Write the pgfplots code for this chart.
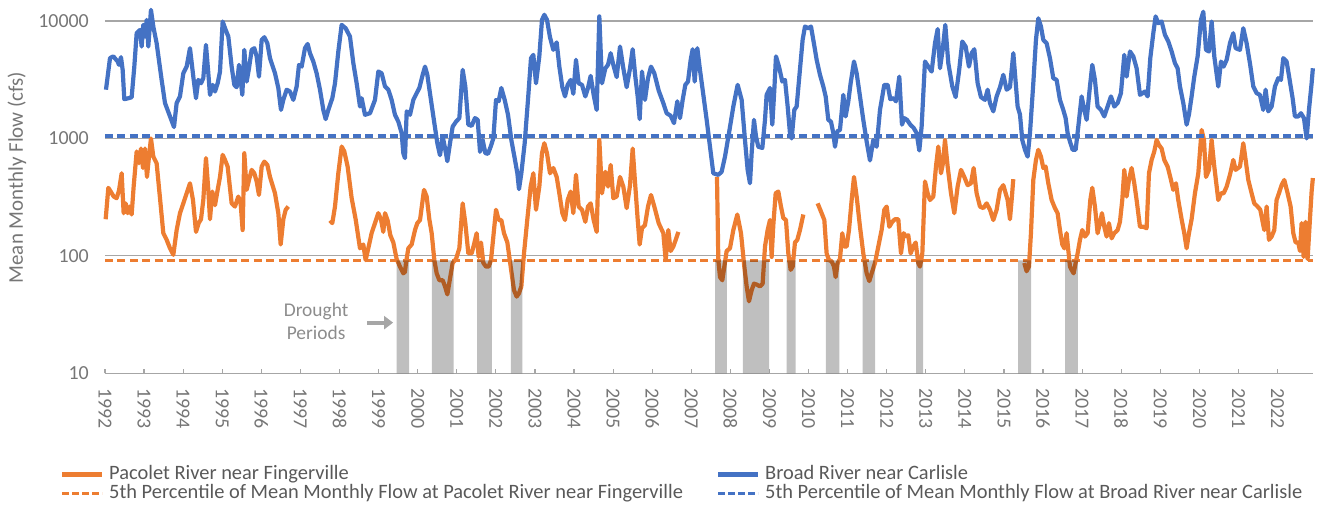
\documentclass[border=0pt]{standalone}
\usepackage{fontspec}
\setmainfont{Carlito}
\usepackage{pgfplots}
\pgfplotsset{compat=1.18}
\usetikzlibrary{arrows.meta}
\definecolor{cOrange}{RGB}{237,125,49}
\definecolor{cBlue}{RGB}{68,114,196}
\definecolor{cGrid}{RGB}{166,166,166}
\definecolor{cBar}{RGB}{191,191,191}
\definecolor{cTick}{RGB}{118,118,118}
\definecolor{cLeg}{RGB}{89,89,89}
\definecolor{cNote}{RGB}{140,140,140}
\begin{document}
\begin{tikzpicture}
\begin{axis}[
  at={(0,0)}, anchor=south west,
  scale only axis, width=1207.9bp, height=373.3bp,
  xmin=1992, xmax=2022.9,
  ymode=log, ymin=10, ymax=15100,
  clip=false,
  axis x line*=bottom, axis y line*=left,
  y axis line style={draw=none},
  x axis line style={cGrid, line width=1.3bp},
  ymajorgrids, grid style={cGrid, line width=1.2bp},
  ytick={10,100,1000,10000}, yticklabels={10,100,1000,10000},
  ytick style={draw=none}, yminorticks=false,
  xtick={1992,...,2022},
  xticklabels={1992,1993,1994,1995,1996,1997,1998,1999,2000,2001,2002,2003,2004,2005,2006,2007,2008,2009,2010,2011,2012,2013,2014,2015,2016,2017,2018,2019,2020,2021,2022},
  xtick style={cGrid, line width=1.2bp}, tick align=inside, major tick length=4bp,
  xticklabel style={font=\fontsize{20}{24}\selectfont, text=cTick, rotate=-90, anchor=west, inner sep=0pt},
  yticklabel style={font=\fontsize{20}{24}\selectfont, text=cTick, anchor=east, inner sep=0pt},
  xticklabel shift=15bp, yticklabel shift=16bp,
  unbounded coords=jump,
  legend columns=2,
  legend cell align=left,
  legend style={at={(rel axis cs:-0.03725,-0.2456)}, anchor=north west, draw=none, fill=none,
    inner sep=0pt, outer sep=0pt, font=\fontsize{20.5}{24}\selectfont, text=cLeg,
    nodes={inner sep=0pt, text height=15bp, text depth=4bp},
    row sep=0bp,
    /tikz/every odd column/.append style={column sep=5bp},
    /tikz/every even column/.append style={column sep=33bp}},
]
% Pacolet River near Fingerville
\addplot[cOrange, line width=4.2bp, line join=round,
  legend image code/.code={\draw[cOrange, line width=4.2bp] (0bp,0bp) -- (40bp,0bp);}]
coordinates {
(1992.017,205)(1992.085,380)(1992.153,350)(1992.222,320)(1992.298,310)(1992.358,360)(1992.426,505)(1992.477,231)(1992.529,280)(1992.580,231)(1992.631,263)(1992.682,225)(1992.733,389)(1992.810,775)(1992.870,615)(1992.921,820)(1992.972,560)(1993.023,820)(1993.074,470)(1993.125,700)(1993.176,1000)(1993.236,700)(1993.321,615)(1993.407,310)(1993.492,156)(1993.577,137)(1993.663,116)(1993.748,102)(1993.833,166)(1993.918,231)(1994.004,280)(1994.089,341)(1994.174,415)(1994.251,299)(1994.328,160)(1994.396,190)(1994.456,205)(1994.515,299)(1994.583,680)(1994.643,365)(1994.686,205)(1994.745,353)(1994.814,270)(1994.882,365)(1994.942,470)(1995.010,725)(1995.070,656)(1995.138,576)(1995.240,280)(1995.325,263)(1995.411,320)(1995.470,280)(1995.521,166)(1995.564,748)(1995.624,365)(1995.684,443)(1995.752,540)(1995.820,505)(1995.880,430)(1995.939,330)(1996.008,576)(1996.076,635)(1996.153,595)(1996.221,470)(1996.349,341)(1996.434,231)(1996.494,125)(1996.562,205)(1996.622,247)(1996.690,263)
(1997.2,nan)
(1997.756,200)(1997.815,190)(1997.884,263)(1997.969,505)(1998.054,853)(1998.122,775)(1998.207,576)(1998.310,310)(1998.412,205)(1998.523,116)(1998.608,125)(1998.668,92)(1998.736,116)(1998.821,156)(1998.907,190)(1998.992,231)(1999.060,205)(1999.120,160)(1999.163,231)(1999.231,200)(1999.299,150)(1999.376,130)(1999.461,94)(1999.546,81)(1999.632,71)(1999.674,73)
(1999.700,87)(1999.760,116)(1999.845,125)(1999.931,166)(1999.990,190)(2000.059,202)(2000.161,365)(2000.229,320)(2000.297,205)(2000.357,156)(2000.425,92)(2000.485,71)(2000.553,62)(2000.638,62)(2000.698,55)(2000.758,47)(2000.826,64)(2000.894,87)(2000.980,94)(2001.065,116)(2001.150,280)(2001.218,190)(2001.295,105)(2001.380,105)(2001.440,125)(2001.508,156)(2001.559,98)(2001.619,130)(2001.679,87)(2001.747,81)(2001.815,81)(2001.875,92)(2001.935,146)(2002.003,247)(2002.071,202)(2002.139,202)(2002.207,156)(2002.293,130)(2002.378,81)(2002.463,51)(2002.531,45)(2002.591,48)(2002.651,55)(2002.719,105)(2002.804,205)(2002.889,389)(2002.958,505)(2003.026,247)(2003.111,389)(2003.179,748)(2003.239,910)(2003.307,748)(2003.384,505)(2003.469,560)(2003.555,470)(2003.623,341)(2003.700,231)(2003.768,202)(2003.836,299)(2003.913,353)(2003.981,231)(2004.049,490)(2004.117,263)(2004.203,247)(2004.288,195)(2004.356,263)(2004.424,280)(2004.501,202)(2004.578,160)(2004.646,971)(2004.714,341)(2004.800,520)(2004.868,389)(2004.936,595)(2005.004,310)(2005.090,320)(2005.175,470)(2005.260,389)(2005.345,255)(2005.431,400)(2005.499,820)(2005.567,389)(2005.627,205)(2005.678,125)(2005.738,172)(2005.814,183)(2005.891,263)(2005.968,330)(2006.053,263)(2006.164,190)(2006.283,156)(2006.343,92)(2006.411,166)(2006.471,110)(2006.539,120)(2006.607,139)(2006.667,160)
(2007.1,nan)
(2007.656,470)(2007.690,92)(2007.733,66)(2007.792,62)(2007.844,81)(2007.903,110)(2007.988,116)(2008.074,166)(2008.176,225)(2008.270,156)(2008.355,81)(2008.415,55)(2008.474,41)(2008.543,51)(2008.602,58)(2008.671,57)(2008.756,55)(2008.824,58)(2008.884,120)(2008.952,166)(2009.012,202)(2009.054,98)(2009.097,183)(2009.157,341)(2009.225,353)(2009.293,263)(2009.353,210)(2009.421,202)(2009.481,105)(2009.540,76)(2009.592,81)(2009.651,130)(2009.711,137)(2009.779,166)(2009.865,225)
(2010.0,nan)
(2010.231,280)(2010.333,231)(2010.402,202)(2010.461,105)(2010.521,92)(2010.589,90)(2010.649,81)(2010.691,66)(2010.743,87)(2010.802,94)(2010.862,156)(2010.913,120)(2010.973,120)(2011.033,166)(2011.101,299)(2011.161,470)(2011.229,320)(2011.314,177)(2011.399,105)(2011.485,71)(2011.553,61)(2011.613,71)(2011.698,87)(2011.783,120)(2011.868,166)(2011.937,247)(2011.996,263)(2012.065,177)(2012.141,195)(2012.209,205)(2012.295,205)(2012.363,105)(2012.431,156)(2012.491,146)(2012.550,150)(2012.610,105)(2012.678,120)(2012.738,130)(2012.806,87)(2012.849,81)(2012.909,105)(2012.977,430)(2013.045,341)(2013.105,299)(2013.190,320)(2013.258,576)(2013.318,853)(2013.386,505)(2013.437,615)(2013.489,971)(2013.557,576)(2013.642,341)(2013.727,231)(2013.812,389)(2013.898,540)(2013.983,470)(2014.068,400)(2014.153,415)(2014.222,560)(2014.298,341)(2014.384,263)(2014.469,255)(2014.554,280)(2014.640,247)(2014.725,202)(2014.810,247)(2014.896,365)(2014.981,400)(2015.091,299)(2015.151,205)(2015.194,299)(2015.236,450)
(2015.4,nan)
(2015.518,87)(2015.577,74)(2015.637,81)(2015.688,156)(2015.748,443)(2015.816,656)(2015.876,800)(2015.944,700)(2016.004,560)(2016.063,576)(2016.132,415)(2016.217,299)(2016.302,255)(2016.370,231)(2016.430,166)(2016.490,125)(2016.541,116)(2016.600,156)(2016.643,112)(2016.686,81)(2016.728,76)(2016.780,71)(2016.831,87)(2016.882,105)(2016.942,137)(2017.001,166)(2017.070,146)(2017.138,156)(2017.206,299)(2017.257,380)(2017.325,263)(2017.393,156)(2017.453,190)(2017.504,231)(2017.564,177)(2017.624,146)(2017.683,190)(2017.752,141)(2017.820,156)(2017.905,166)(2017.965,195)(2018.024,299)(2018.076,540)(2018.135,320)(2018.195,443)(2018.263,560)(2018.331,415)(2018.391,299)(2018.477,177)(2018.562,177)(2018.647,172)(2018.707,505)(2018.775,656)(2018.843,775)(2018.903,971)(2018.962,880)(2019.031,820)(2019.099,656)(2019.184,576)(2019.270,443)(2019.329,365)(2019.397,415)(2019.457,299)(2019.542,205)(2019.610,156)(2019.670,116)(2019.730,156)(2019.798,205)(2019.883,341)(2019.969,505)(2020.054,1180)(2020.114,971)(2020.165,470)(2020.242,540)(2020.310,971)(2020.378,576)(2020.480,299)(2020.549,341)(2020.617,341)(2020.694,389)(2020.779,490)(2020.864,656)(2020.924,540)(2021.035,576)(2021.120,910)(2021.180,656)(2021.248,443)(2021.333,341)(2021.401,280)(2021.486,263)(2021.555,247)(2021.606,202)(2021.657,166)(2021.717,263)(2021.776,137)(2021.845,146)(2021.913,166)(2021.972,299)(2022.032,341)(2022.100,400)(2022.168,443)(2022.254,341)(2022.331,263)(2022.399,156)(2022.459,130)(2022.527,130)(2022.570,110)(2022.612,190)(2022.663,98)(2022.714,195)(2022.765,94)(2022.825,205)(2022.868,353)(2022.9,460)
};
\addlegendentry{Pacolet River near Fingerville}
% Broad River near Carlisle
\addplot[cBlue, line width=4.2bp, line join=round,
  legend image code/.code={\draw[cBlue, line width=4.2bp] (0bp,0bp) -- (40bp,0bp);}]
coordinates {
(1992.025,2600)(1992.128,4830)(1992.213,5000)(1992.324,4520)(1992.358,4230)(1992.409,4920)(1992.452,3830)(1992.494,2160)(1992.597,2200)(1992.682,2240)(1992.750,4090)(1992.810,7870)(1992.895,8400)(1992.938,6060)(1992.980,9270)(1993.023,7370)(1993.066,10230)(1993.108,6060)(1993.176,12450)(1993.236,8970)(1993.321,6470)(1993.449,3150)(1993.535,2000)(1993.663,1540)(1993.765,1250)(1993.833,2000)(1993.918,2280)(1994.004,3590)(1994.089,4090)(1994.174,5870)(1994.259,3360)(1994.328,2200)(1994.387,3150)(1994.456,2950)(1994.515,3260)(1994.583,6260)(1994.643,3590)(1994.686,2350)(1994.754,2860)(1994.814,2510)(1994.882,2950)(1994.942,3710)(1995.010,9900)(1995.087,8400)(1995.155,7370)(1995.240,4090)(1995.308,2860)(1995.368,2730)(1995.428,4230)(1995.470,3150)(1995.513,2350)(1995.564,5680)(1995.624,3050)(1995.684,3960)(1995.752,5680)(1995.820,5870)(1995.880,5000)(1995.939,3360)(1996.008,6910)(1996.076,7280)(1996.153,6470)(1996.221,4830)(1996.349,3590)(1996.434,2690)(1996.502,1750)(1996.562,2130)(1996.647,2600)(1996.732,2510)(1996.818,2130)(1996.903,2770)(1996.963,4230)(1997.031,4090)(1997.116,5870)(1997.184,6380)(1997.244,5320)(1997.329,4520)(1997.414,3590)(1997.500,2600)(1997.585,1750)(1997.645,1460)(1997.713,1750)(1997.815,2200)(1997.884,2950)(1997.969,5500)(1998.054,9270)(1998.156,8680)(1998.267,7370)(1998.353,4370)(1998.438,2950)(1998.523,1870)(1998.566,2200)(1998.651,1590)(1998.779,1640)(1998.907,2130)(1998.992,3710)(1999.077,3590)(1999.163,2770)(1999.248,2600)(1999.333,2130)(1999.418,1590)(1999.504,1390)(1999.589,1110)(1999.632,748)(1999.674,680)
(1999.718,1700)(1999.803,1590)(1999.888,2130)(1999.973,2430)(2000.042,2690)(2000.127,3480)(2000.187,4090)(2000.246,3480)(2000.332,2200)(2000.417,1410)(2000.502,910)(2000.570,720)(2000.638,1040)(2000.698,830)(2000.758,640)(2000.826,910)(2000.894,1260)(2000.980,1390)(2001.065,1490)(2001.150,3840)(2001.218,2770)(2001.295,1310)(2001.380,1280)(2001.465,1490)(2001.534,1440)(2001.594,770)(2001.662,970)(2001.730,750)(2001.798,740)(2001.866,850)(2001.935,1000)(2002.003,2130)(2002.071,2070)(2002.139,2690)(2002.225,2130)(2002.310,1590)(2002.395,970)(2002.480,680)(2002.549,505)(2002.591,370)(2002.651,505)(2002.736,910)(2002.821,2130)(2002.898,4830)(2002.958,5150)(2003.026,2950)(2003.111,5000)(2003.179,10230)(2003.239,11300)(2003.307,10230)(2003.384,7280)(2003.469,5680)(2003.555,6580)(2003.623,4090)(2003.700,2730)(2003.768,2280)(2003.836,2860)(2003.913,3150)(2003.981,2400)(2004.049,4670)(2004.117,2950)(2004.203,2860)(2004.288,2280)(2004.356,2690)(2004.424,3410)(2004.501,2350)(2004.578,1750)(2004.646,10950)(2004.714,2950)(2004.800,3960)(2004.868,4230)(2004.936,5320)(2005.004,4230)(2005.090,3330)(2005.175,6060)(2005.260,3960)(2005.345,2730)(2005.431,3960)(2005.499,5750)(2005.567,3360)(2005.627,2280)(2005.678,1460)(2005.738,3710)(2005.814,2130)(2005.891,3260)(2005.968,4090)(2006.053,3590)(2006.164,2560)(2006.283,2000)(2006.369,1640)(2006.471,1560)(2006.556,1350)(2006.641,2070)(2006.710,1490)(2006.778,2130)(2006.846,2860)(2006.914,3050)(2006.983,4670)(2007.034,5750)(2007.085,3050)(2007.153,5870)(2007.221,3830)(2007.307,2350)(2007.392,1440)(2007.477,850)
(2007.562,505)(2007.690,490)(2007.775,520)(2007.861,700)(2007.963,1110)(2008.074,1870)(2008.185,2860)(2008.287,2130)(2008.372,970)(2008.440,540)(2008.500,415)(2008.543,750)(2008.602,1440)(2008.654,1040)(2008.713,850)(2008.816,830)(2008.884,1440)(2008.926,2350)(2009.012,2690)(2009.071,1310)(2009.123,2600)(2009.165,5000)(2009.242,4090)(2009.327,3050)(2009.396,3150)(2009.464,1870)(2009.523,1110)(2009.566,1000)(2009.634,1750)(2009.694,1870)(2009.762,3360)(2009.847,6910)(2009.907,8970)(2009.992,8680)(2010.061,8970)(2010.120,6910)(2010.206,4670)(2010.291,3480)(2010.376,2770)(2010.436,2280)(2010.504,1440)(2010.572,1390)(2010.632,1110)(2010.675,850)(2010.734,1150)(2010.802,1180)(2010.888,2350)(2010.947,1540)(2011.016,2070)(2011.075,2950)(2011.161,4520)(2011.229,3590)(2011.314,2280)(2011.399,1440)(2011.485,940)(2011.570,650)(2011.655,970)(2011.740,850)(2011.826,1750)(2011.936,2860)(2012.022,2860)(2012.090,2160)(2012.175,2200)(2012.235,2070)(2012.320,3360)(2012.388,1310)(2012.448,1490)(2012.516,1440)(2012.602,1310)(2012.687,1230)(2012.764,1110)(2012.832,790)(2012.891,1260)(2012.977,4520)(2013.062,4090)(2013.147,3710)(2013.233,6470)(2013.301,8530)(2013.361,3960)(2013.429,5680)(2013.497,9270)(2013.574,4370)(2013.676,2770)(2013.761,2250)(2013.847,3710)(2013.932,6690)(2014.017,6060)(2014.102,4090)(2014.170,5320)(2014.239,5750)(2014.324,2950)(2014.409,2250)(2014.512,2130)(2014.580,2600)(2014.640,2000)(2014.725,1700)(2014.810,2280)(2014.896,2730)(2014.981,3480)(2015.066,2600)(2015.151,2730)(2015.237,5320)
(2015.347,1870)(2015.407,1600)(2015.466,970)(2015.535,800)(2015.603,700)(2015.663,1110)(2015.748,2950)(2015.816,6910)(2015.876,10550)(2015.944,8970)(2016.004,6910)(2016.089,6470)(2016.174,4830)(2016.259,3260)(2016.345,3150)(2016.430,2130)(2016.515,1750)(2016.575,1490)(2016.626,1110)(2016.686,940)(2016.754,800)(2016.831,800)(2016.899,1260)(2016.984,2280)(2017.052,1750)(2017.112,1440)(2017.197,2770)(2017.257,4230)(2017.325,3150)(2017.393,1870)(2017.479,1750)(2017.564,1540)(2017.649,1870)(2017.735,2280)(2017.820,1870)(2017.905,2000)(2017.990,2430)(2018.076,5150)(2018.135,3360)(2018.221,5500)(2018.306,5000)(2018.391,3960)(2018.477,2350)(2018.545,2430)(2018.604,2510)(2018.673,2280)(2018.741,4830)(2018.818,7870)(2018.877,10950)(2018.946,9590)(2019.031,9900)(2019.116,7620)(2019.202,6690)(2019.287,5500)(2019.372,4370)(2019.440,3960)(2019.500,2770)(2019.585,2000)(2019.670,1310)(2019.730,1600)(2019.798,2280)(2019.866,3360)(2019.952,5000)(2020.037,10230)(2020.097,12000)(2020.165,5680)(2020.242,5500)(2020.310,9900)(2020.378,5000)(2020.480,2770)(2020.549,4520)(2020.617,4090)(2020.694,4670)(2020.779,6470)(2020.864,7870)(2020.924,5870)(2021.035,5680)(2021.120,8680)(2021.205,6470)(2021.290,4370)(2021.376,2770)(2021.461,2430)(2021.546,2350)(2021.631,1750)(2021.691,2600)(2021.759,1700)(2021.845,1870)(2021.930,2770)(2022.015,3260)(2022.083,3150)(2022.143,4830)(2022.228,4520)(2022.313,3050)(2022.382,2200)(2022.441,1540)(2022.526,1540)(2022.595,1640)(2022.672,1490)(2022.740,1000)(2022.800,1750)(2022.868,2950)(2022.9,3960)
};
\addlegendentry{Broad River near Carlisle}
% 5th percentile lines
\addplot[cOrange, line width=3.8bp, dash pattern=on 8bp off 4.4bp,
  legend image code/.code={\draw[cOrange, line width=3.8bp, dash pattern=on 7bp off 3bp] (0bp,0bp) -- (40bp,0bp);}]
coordinates {(1992,91.5)(2022.9,91.5)};
\addlegendentry{5th Percentile of Mean Monthly Flow at Pacolet River near Fingerville}
\addplot[cBlue, line width=3.8bp, dash pattern=on 8bp off 4.4bp,
  legend image code/.code={\draw[cBlue, line width=3.8bp, dash pattern=on 7bp off 3bp] (0bp,0bp) -- (40bp,0bp);}]
coordinates {(1992,1050)(2022.9,1050)};
\addlegendentry{5th Percentile of Mean Monthly Flow at Broad River near Carlisle}
% drought periods
\addplot[forget plot, fill=cBar, draw=none, blend mode=multiply]
coordinates {
(1999.46,10)(1999.46,91.5)(1999.78,91.5)(1999.78,10)(1999.9,nan)
(2000.36,10)(2000.36,91.5)(2000.92,91.5)(2000.92,10)(2001.0,nan)
(2001.52,10)(2001.52,91.5)(2001.90,91.5)(2001.90,10)(2002.0,nan)
(2002.38,10)(2002.38,91.5)(2002.68,91.5)(2002.68,10)(2002.8,nan)
(2007.61,10)(2007.61,91.5)(2007.91,91.5)(2007.91,10)(2008.0,nan)
(2008.32,10)(2008.32,91.5)(2008.99,91.5)(2008.99,10)(2009.1,nan)
(2009.44,10)(2009.44,91.5)(2009.67,91.5)(2009.67,10)(2009.8,nan)
(2010.44,10)(2010.44,91.5)(2010.79,91.5)(2010.79,10)(2010.9,nan)
(2011.38,10)(2011.38,91.5)(2011.70,91.5)(2011.70,10)(2011.8,nan)
(2012.75,10)(2012.75,91.5)(2012.93,91.5)(2012.93,10)(2013.0,nan)
(2015.36,10)(2015.36,91.5)(2015.69,91.5)(2015.69,10)(2015.8,nan)
(2016.56,10)(2016.56,91.5)(2016.89,91.5)(2016.89,10)
};
\node[align=center, font=\fontsize{19.5}{23}\selectfont, text=cNote] at (axis cs:1997.40,27.5) {Drought\\Periods};
\draw[-{Triangle[length=9bp,width=13bp]}, line width=4bp, color=cGrid] (axis cs:1998.70,27) -- (axis cs:1999.37,27);
\node[rotate=90, font=\fontsize{21}{25}\selectfont, text=cTick] at (rel axis cs:-0.0729,0.5245) {Mean Monthly Flow (cfs)};
\end{axis}
\path (-105bp,-144.7bp) rectangle (1212bp,373.3bp);
\end{tikzpicture}
\end{document}
